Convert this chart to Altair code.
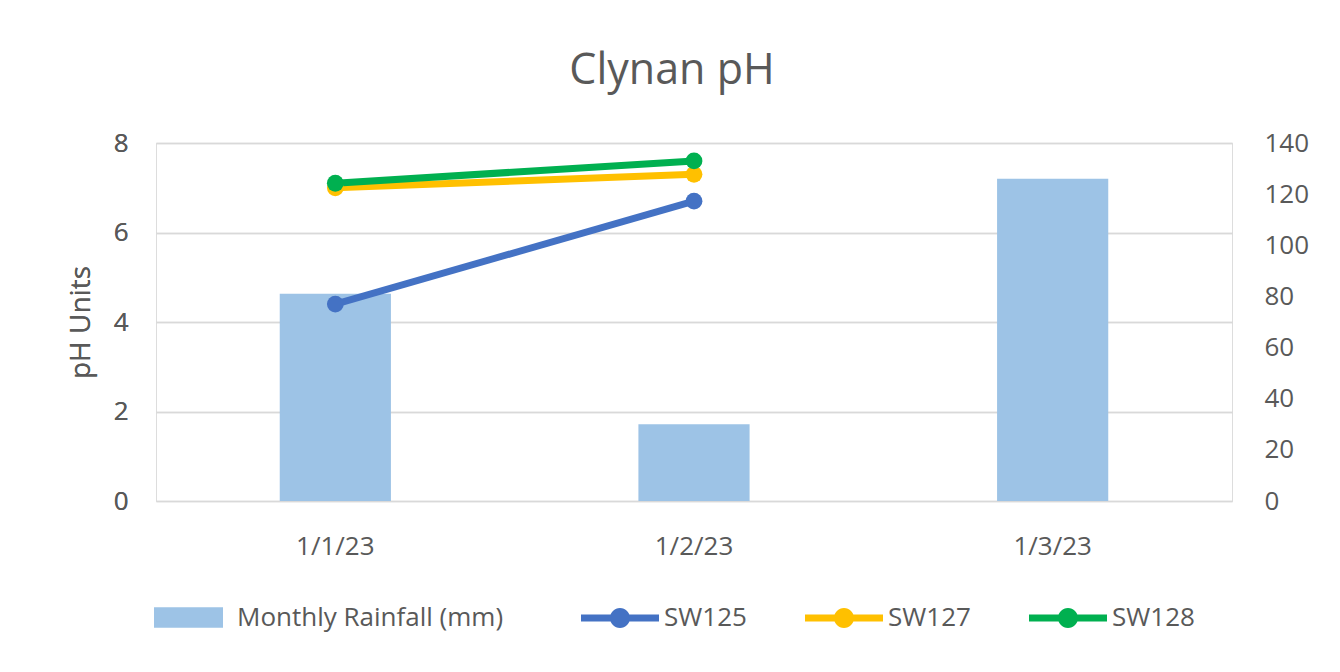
import altair as alt
import pandas as pd

# ---- data ----
dates = ["1/1/23", "1/2/23", "1/3/23"]
rainfall = [81, 30, 126]
rain_label = "Monthly Rainfall (mm)"
series_names = ["SW125", "SW127", "SW128"]
sw125 = [4.4, 6.7, None]
sw127 = [7.0, 7.3, None]
sw128 = [7.1, 7.6, None]
series_colors = ["#4472C4", "#FFC000", "#00B050"]
bar_color = "#9DC3E6"

bars_df = pd.DataFrame({"date": dates, "rain": rainfall, "label": [rain_label] * len(dates)})
rows = []
for name, vals in zip(series_names, [sw125, sw127, sw128]):
    for d, v in zip(dates, vals):
        if v is not None:
            rows.append({"date": d, "series": name, "line_series": name, "ph": v})
lines_df = pd.DataFrame(rows)

FONT = "Open Sans"
GREY = "#595959"

x_enc = alt.X(
    "date:N",
    sort=dates,
    scale=alt.Scale(domain=dates, paddingInner=0.69, paddingOuter=0.345),
    axis=alt.Axis(title=None, labelAngle=0, labelFontSize=26, labelColor=GREY,
                  labelFont=FONT, labelPadding=32, ticks=False, domain=False, grid=False),
)

bar_symbol = "M-1,-0.3L1,-0.3L1,0.3L-1,0.3Z"
line_symbol = ("M-1,-0.09L1,-0.09L1,0.09L-1,0.09Z "
               "M0.256,0A0.256,0.256 0 1,1 -0.256,0A0.256,0.256 0 1,1 0.256,0Z")

bars = alt.Chart(bars_df).mark_bar(opacity=1).encode(
    x=x_enc,
    y=alt.Y("rain:Q", scale=alt.Scale(domain=[0, 140], nice=False),
            axis=alt.Axis(orient="right", title=None, values=list(range(0, 141, 20)),
                          labelFontSize=26, labelColor=GREY, labelFont=FONT,
                          labelPadding=32, ticks=False, domain=False, grid=False)),
    color=alt.Color("label:N", scale=alt.Scale(domain=[rain_label], range=[bar_color]),
                    legend=alt.Legend(title=None, orient="none", legendX=-3, legendY=439,
                                      symbolType=bar_symbol, symbolSize=4761,
                                      symbolOpacity=1, labelFontSize=26, labelColor=GREY,
                                      labelFont=FONT, labelOffset=13, labelLimit=500)),
)

y_ph = alt.Y("ph:Q", scale=alt.Scale(domain=[0, 8], nice=False),
             axis=alt.Axis(orient="left", title="pH Units", values=[0, 2, 4, 6, 8],
                           labelFontSize=26, labelColor=GREY, labelFont=FONT,
                           labelPadding=28, ticks=False, domain=False,
                           grid=True, gridColor="#D9D9D9", gridWidth=1.5,
                           titleFontSize=28, titleColor=GREY, titleFont=FONT,
                           titleFontWeight="normal", titlePadding=18))

lines = alt.Chart(lines_df).mark_line(strokeWidth=7).encode(
    x=x_enc,
    y=y_ph,
    stroke=alt.Stroke("line_series:N", scale=alt.Scale(range=series_colors), legend=None),
)

points = alt.Chart(lines_df).mark_point(filled=True, size=283, opacity=1).encode(
    x=x_enc,
    y=y_ph,
    fill=alt.Fill("series:N", scale=alt.Scale(domain=series_names, range=series_colors),
                  legend=alt.Legend(title=None, orient="none", legendX=424, legendY=435,
                                    direction="horizontal", symbolType=line_symbol,
                                    symbolSize=6084, symbolOpacity=1, labelFontSize=26,
                                    labelColor=GREY, labelFont=FONT, labelOffset=4,
                                    columnPadding=57, labelLimit=300)),
)

chart = alt.layer(bars, lines, points).resolve_scale(y="independent").properties(
    width=1076,
    height=358,
    autosize=alt.AutoSizeParams(type="none"),
    padding={"left": 148, "top": 135, "right": 100, "bottom": 160},
    title=alt.TitleParams("Clynan pH", fontSize=43, font=FONT, color=GREY,
                          fontWeight="normal", anchor="middle", dx=-22, offset=37),
).configure_view(stroke=None).configure(background="white")

chart.save("out.html", embed_options={"renderer": "svg", "actions": False})
